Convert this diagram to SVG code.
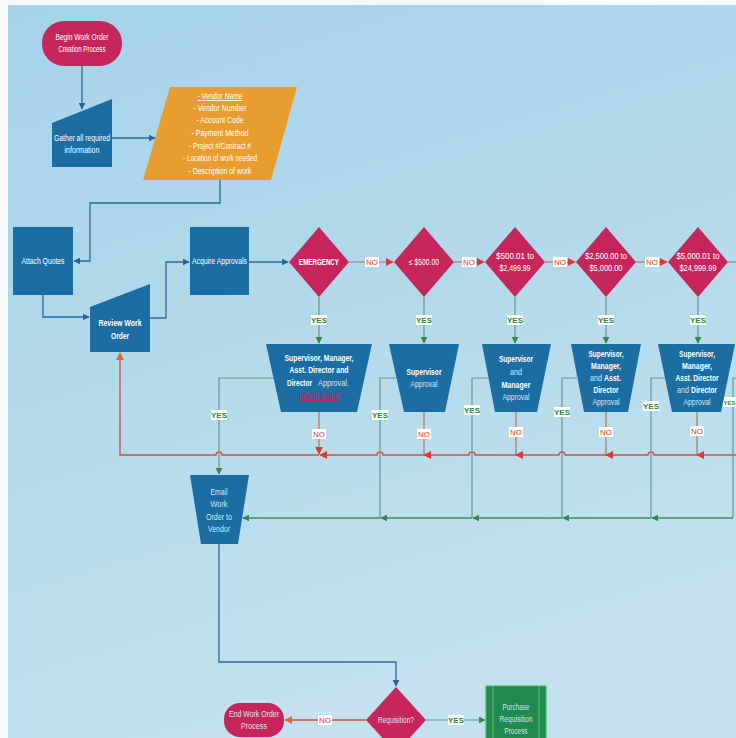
<svg xmlns="http://www.w3.org/2000/svg" width="736" height="738" viewBox="0 0 736 738">
<defs>
<linearGradient id="bg" x1="0" y1="0" x2="0.3" y2="1">
<stop offset="0" stop-color="#a6d3e9"/>
<stop offset="0.5" stop-color="#b2d9eb"/>
<stop offset="1" stop-color="#c3e1ee"/>
</linearGradient>
<marker id="aB" viewBox="0 0 10 10" refX="9" refY="5" markerWidth="7" markerHeight="7" markerUnits="userSpaceOnUse" orient="auto"><path d="M0,0 L10,5 L0,10 z" fill="#24679a"/></marker>
<marker id="aR" viewBox="0 0 10 10" refX="9" refY="5" markerWidth="8" markerHeight="8" markerUnits="userSpaceOnUse" orient="auto"><path d="M0,0 L10,5 L0,10 z" fill="#d83a35"/></marker>
<marker id="aO" viewBox="0 0 10 10" refX="9" refY="5" markerWidth="8" markerHeight="8" markerUnits="userSpaceOnUse" orient="auto"><path d="M0,0 L10,5 L0,10 z" fill="#e0672e"/></marker>
<marker id="aG" viewBox="0 0 10 10" refX="9" refY="5" markerWidth="7" markerHeight="7" markerUnits="userSpaceOnUse" orient="auto"><path d="M0,0 L10,5 L0,10 z" fill="#2f8a4c"/></marker>
</defs>
<style>
text{font-family:"Liberation Sans",Arial,sans-serif;font-size:8.5px;text-anchor:middle;fill:#ffffff}
.b{font-weight:bold}
.n{fill:#d3e5f1}
.e{text-anchor:end}
.s{text-anchor:start}
.lnk{fill:#d6232a;text-decoration:underline}
.blue{fill:#1c6ea2}
.crim{fill:#c7265c}
.orng{fill:#e89d2f}
.grn{fill:#1f8a4b;stroke:#52b66f;stroke-width:1.2}
.cb{fill:none;stroke:#2a6b9c;stroke-width:1.3}
.cr{fill:none;stroke:#d0503f;stroke-width:1.3}
.cn{fill:none;stroke:#b8706c;stroke-width:1.2}
.cy{fill:none;stroke:#5f9c8e;stroke-width:1.2}
.cg{fill:none;stroke:#3b8f5b;stroke-width:1.4}
.lbl{fill:#ffffff}
.no{fill:#d8401f;font-size:8px}
.yes{fill:#2e8a3a;font-size:8px;font-weight:bold}
</style>
<rect x="0" y="0" width="736" height="738" fill="#f7f8fa"/>
<rect x="8" y="5" width="728" height="733" fill="url(#bg)"/>

<g id="connectors">
<path class="cb" d="M82,66 V109" marker-end="url(#aB)"/>
<path class="cb" d="M112,138 H155" marker-end="url(#aB)"/>
<path class="cb" d="M220,180 V203 H90 V261 H74" marker-end="url(#aB)"/>
<path class="cb" d="M43,295 V317 H89" marker-end="url(#aB)"/>
<path class="cb" d="M150,318 H166 V262 H189" marker-end="url(#aB)"/>
<path class="cb" d="M249,262 H288" marker-end="url(#aB)"/>
<path class="cn" d="M349,262 H393" marker-end="url(#aR)"/>
<path class="cn" d="M454,262 H484" marker-end="url(#aR)"/>
<path class="cn" d="M545,262 H575" marker-end="url(#aR)"/>
<path class="cn" d="M636,262 H667" marker-end="url(#aR)"/>
<path class="cn" d="M728,262 H736"/>
<path class="cy" d="M319,297 V343" marker-end="url(#aG)"/>
<path class="cy" d="M424,297 V343" marker-end="url(#aG)"/>
<path class="cy" d="M515,297 V343" marker-end="url(#aG)"/>
<path class="cy" d="M606,297 V343" marker-end="url(#aG)"/>
<path class="cy" d="M698,297 V343" marker-end="url(#aG)"/>
<path class="cn" d="M319,412 V454" marker-end="url(#aR)"/>
<path class="cn" d="M424,412 V455"/>
<path class="cn" d="M516,412 V455"/>
<path class="cn" d="M606,412 V455"/>
<path class="cn" d="M697,412 V455"/>
<path class="cr" d="M736,455 H697" marker-end="url(#aR)"/>
<path class="cr" d="M697,455 H654 A3,3 0 0 0 648,455 H606" marker-end="url(#aR)"/>
<path class="cr" d="M606,455 H565 A3,3 0 0 0 559,455 H516" marker-end="url(#aR)"/>
<path class="cr" d="M516,455 H475 A3,3 0 0 0 469,455 H424" marker-end="url(#aR)"/>
<path class="cr" d="M424,455 H383 A3,3 0 0 0 377,455 H320" marker-end="url(#aR)"/>
<path class="cr" d="M319,455 H222 A3,3 0 0 0 216,455 H120 V353" marker-end="url(#aO)"/>
<path class="cy" d="M274,378 H219 V474" marker-end="url(#aG)"/>
<path class="cy" d="M396,378 H380 V518"/>
<path class="cy" d="M488,378 H472 V518"/>
<path class="cy" d="M577,378 H562 V518"/>
<path class="cy" d="M666,378 H651 V518"/>
<path class="cy" d="M736,378 H733 V518"/>
<path class="cg" d="M733,518 H652" marker-end="url(#aG)"/>
<path class="cg" d="M651,518 H563" marker-end="url(#aG)"/>
<path class="cg" d="M562,518 H473" marker-end="url(#aG)"/>
<path class="cg" d="M472,518 H381" marker-end="url(#aG)"/>
<path class="cg" d="M380,518 H243" marker-end="url(#aG)"/>
<path class="cb" d="M219,544 V662 H396 V686" marker-end="url(#aB)"/>
<path class="cr" d="M366,720 H285" marker-end="url(#aO)"/>
<path class="cy" d="M426,720 H485" marker-end="url(#aG)"/>
<g id="labels">
<rect class="lbl" x="365" y="257" width="14" height="10"/><text class="no" x="372" y="265">NO</text>
<rect class="lbl" x="462" y="257" width="14" height="10"/><text class="no" x="469" y="265">NO</text>
<rect class="lbl" x="553" y="257" width="14" height="10"/><text class="no" x="560" y="265">NO</text>
<rect class="lbl" x="645" y="257" width="14" height="10"/><text class="no" x="652" y="265">NO</text>
<rect class="lbl" x="311" y="315" width="16" height="10"/><text class="yes" x="319" y="323">YES</text>
<rect class="lbl" x="416" y="315" width="16" height="10"/><text class="yes" x="424" y="323">YES</text>
<rect class="lbl" x="507" y="315" width="16" height="10"/><text class="yes" x="515" y="323">YES</text>
<rect class="lbl" x="598" y="315" width="16" height="10"/><text class="yes" x="606" y="323">YES</text>
<rect class="lbl" x="690" y="315" width="16" height="10"/><text class="yes" x="698" y="323">YES</text>
<rect class="lbl" x="312" y="429" width="14" height="10"/><text class="no" x="319" y="437">NO</text>
<rect class="lbl" x="417" y="429" width="14" height="10"/><text class="no" x="424" y="437">NO</text>
<rect class="lbl" x="509" y="427" width="14" height="10"/><text class="no" x="516" y="435">NO</text>
<rect class="lbl" x="599" y="427" width="14" height="10"/><text class="no" x="606" y="435">NO</text>
<rect class="lbl" x="690" y="426" width="14" height="10"/><text class="no" x="697" y="434">NO</text>
<rect class="lbl" x="211" y="410" width="16" height="10"/><text class="yes" x="219" y="418">YES</text>
<rect class="lbl" x="372" y="410" width="16" height="10"/><text class="yes" x="380" y="418">YES</text>
<rect class="lbl" x="464" y="405" width="16" height="10"/><text class="yes" x="472" y="413">YES</text>
<rect class="lbl" x="554" y="407" width="16" height="10"/><text class="yes" x="562" y="415">YES</text>
<rect class="lbl" x="643" y="401" width="16" height="10"/><text class="yes" x="651" y="409">YES</text>
<rect class="lbl" x="723" y="397" width="13" height="10"/><text class="yes" x="729.5" y="404.5" style="font-size:6px">YES</text>
<rect class="lbl" x="318" y="715" width="14" height="10"/><text class="no" x="325" y="723">NO</text>
<rect class="lbl" x="448" y="715" width="16" height="10"/><text class="yes" x="456" y="723">YES</text>
</g>
</g>

<g id="begin">
<rect class="crim" x="42" y="21" width="80" height="45" rx="22"/>
<text x="82" y="40" textLength="53" lengthAdjust="spacingAndGlyphs">Begin Work Order</text>
<text x="82" y="52" textLength="47" lengthAdjust="spacingAndGlyphs">Creation Process</text>
</g>
<g id="gather">
<path class="blue" d="M52,123 L112,99 V167 H52 z"/>
<text x="82" y="141" textLength="56" lengthAdjust="spacingAndGlyphs">Gather all required</text>
<text x="82" y="153" textLength="35" lengthAdjust="spacingAndGlyphs">information</text>
</g>
<g id="info">
<path class="orng" d="M170,87 H297 L271,180 H143 z"/>
<text x="220" y="99" text-decoration="underline" textLength="45" lengthAdjust="spacingAndGlyphs">- Vendor Name</text>
<text x="220" y="111" textLength="53" lengthAdjust="spacingAndGlyphs">- Vendor Number</text>
<text x="220" y="123" textLength="47" lengthAdjust="spacingAndGlyphs">- Account Code</text>
<text x="220" y="136" textLength="57" lengthAdjust="spacingAndGlyphs">- Payment Method</text>
<text x="220" y="149" textLength="62" lengthAdjust="spacingAndGlyphs">- Project #/Contract #</text>
<text x="220" y="161" textLength="74" lengthAdjust="spacingAndGlyphs">- Location of work needed</text>
<text x="220" y="174" textLength="63" lengthAdjust="spacingAndGlyphs">- Description of work</text>
</g>
<g id="attach">
<rect class="blue" x="13" y="227" width="60" height="68"/>
<text x="43" y="264" textLength="43" lengthAdjust="spacingAndGlyphs">Attach Quotes</text>
</g>
<g id="review">
<path class="blue" d="M90,307 L150,284 V352 H90 z"/>
<text class="b" x="120" y="326" textLength="43" lengthAdjust="spacingAndGlyphs">Review Work</text>
<text class="b" x="120" y="339" textLength="18" lengthAdjust="spacingAndGlyphs">Order</text>
</g>
<g id="acquire">
<rect class="blue" x="190" y="227" width="59" height="68"/>
<text x="219.5" y="264" textLength="55" lengthAdjust="spacingAndGlyphs">Acquire Approvals</text>
</g>
<g id="d-emergency">
<path class="crim" d="M319,227 L349,262 L319,297 L289,262 z"/>
<text class="b" x="319" y="265" textLength="40" lengthAdjust="spacingAndGlyphs">EMERGENCY</text>
</g>
<g id="d-500">
<path class="crim" d="M424,227 L454,262 L424,297 L394,262 z"/>
<text x="424" y="265" textLength="30" lengthAdjust="spacingAndGlyphs">≤ $500.00</text>
</g>
<g id="d-2499">
<path class="crim" d="M515,227 L545,262 L515,297 L485,262 z"/>
<text x="515" y="259" textLength="38" lengthAdjust="spacingAndGlyphs">$500.01 to</text>
<text x="515" y="271" textLength="31" lengthAdjust="spacingAndGlyphs">$2,499.99</text>
</g>
<g id="d-5000">
<path class="crim" d="M606,227 L636,262 L606,297 L576,262 z"/>
<text x="606" y="259" textLength="42" lengthAdjust="spacingAndGlyphs">$2,500.00 to</text>
<text x="606" y="271" textLength="33" lengthAdjust="spacingAndGlyphs">$5,000.00</text>
</g>
<g id="d-24999">
<path class="crim" d="M698,227 L728,262 L698,297 L668,262 z"/>
<text x="698" y="259" textLength="43" lengthAdjust="spacingAndGlyphs">$5,000.01 to</text>
<text x="698" y="271" textLength="37" lengthAdjust="spacingAndGlyphs">$24,999.99</text>
</g>
<g id="t-emergency">
<path class="blue" d="M266,344 H372 L357,412 H281 z"/>
<text class="b" x="319" y="361" textLength="69" lengthAdjust="spacingAndGlyphs">Supervisor, Manager,</text>
<text class="b" x="319" y="373" textLength="59" lengthAdjust="spacingAndGlyphs">Asst. Director and</text>
<text class="b e" x="312" y="386" textLength="25" lengthAdjust="spacingAndGlyphs">Director</text>
<text class="n s" x="318" y="386" textLength="31" lengthAdjust="spacingAndGlyphs">Approval.</text>
<text class="lnk" x="319" y="399" textLength="40" lengthAdjust="spacingAndGlyphs">Inform Board</text>
</g>
<g id="t-sup">
<path class="blue" d="M389,344 H459 L445,412 H404 z"/>
<text class="b" x="424" y="375" textLength="35" lengthAdjust="spacingAndGlyphs">Supervisor</text>
<text class="n" x="424" y="387" textLength="27" lengthAdjust="spacingAndGlyphs">Approval</text>
</g>
<g id="t-supman">
<path class="blue" d="M482,344 H551 L537,412 H495 z"/>
<text class="b" x="516" y="362" textLength="34" lengthAdjust="spacingAndGlyphs">Supervisor</text>
<text class="n" x="516" y="375" textLength="12" lengthAdjust="spacingAndGlyphs">and</text>
<text class="b" x="516" y="388" textLength="29" lengthAdjust="spacingAndGlyphs">Manager</text>
<text class="n" x="516" y="400" textLength="27" lengthAdjust="spacingAndGlyphs">Approval</text>
</g>
<g id="t-supmanasst">
<path class="blue" d="M571,344 H641 L628,412 H584 z"/>
<text class="b" x="606" y="357" textLength="35" lengthAdjust="spacingAndGlyphs">Supervisor,</text>
<text class="b" x="606" y="369" textLength="30" lengthAdjust="spacingAndGlyphs">Manager,</text>
<text class="n e" x="602" y="381" textLength="12" lengthAdjust="spacingAndGlyphs">and</text>
<text class="b s" x="604" y="381" textLength="17" lengthAdjust="spacingAndGlyphs">Asst.</text>
<text class="b" x="606" y="393" textLength="25" lengthAdjust="spacingAndGlyphs">Director</text>
<text class="n" x="606" y="405" textLength="27" lengthAdjust="spacingAndGlyphs">Approval</text>
</g>
<g id="t-all">
<path class="blue" d="M658,344 H735 L721,412 H672 z"/>
<text class="b" x="697" y="357" textLength="36" lengthAdjust="spacingAndGlyphs">Supervisor,</text>
<text class="b" x="697" y="369" textLength="30" lengthAdjust="spacingAndGlyphs">Manager,</text>
<text class="b" x="697" y="381" textLength="43" lengthAdjust="spacingAndGlyphs">Asst. Director</text>
<text class="n e" x="689" y="393" textLength="12" lengthAdjust="spacingAndGlyphs">and</text>
<text class="b s" x="691" y="393" textLength="26" lengthAdjust="spacingAndGlyphs">Director</text>
<text class="n" x="697" y="405" textLength="27" lengthAdjust="spacingAndGlyphs">Approval</text>
</g>
<g id="email">
<path class="blue" d="M190,475 H249 L238,544 H201 z"/>
<text class="n" x="219" y="495" textLength="17" lengthAdjust="spacingAndGlyphs">Email</text>
<text class="n" x="219" y="507" textLength="17" lengthAdjust="spacingAndGlyphs">Work</text>
<text class="n" x="219" y="520" textLength="26" lengthAdjust="spacingAndGlyphs">Order to</text>
<text class="n" x="219" y="532" textLength="22" lengthAdjust="spacingAndGlyphs">Vendor</text>
</g>
<g id="requisition">
<path class="crim" d="M396,687 L426,720 L396,753 L366,720 z"/>
<text class="n" x="396" y="723" textLength="36" lengthAdjust="spacingAndGlyphs">Requisition?</text>
</g>
<g id="end">
<rect class="crim" x="224" y="703" width="60" height="34" rx="16"/>
<text class="n" x="254" y="717" textLength="50" lengthAdjust="spacingAndGlyphs">End Work Order</text>
<text class="n" x="254" y="729" textLength="26" lengthAdjust="spacingAndGlyphs">Process</text>
</g>
<g id="purchase">
<rect class="grn" x="486" y="686" width="60" height="60"/>
<path d="M493,686 V746 M539,686 V746" stroke="#52b66f" stroke-width="1.2"/>
<text class="n" x="516" y="710" textLength="27" lengthAdjust="spacingAndGlyphs">Purchase</text>
<text class="n" x="516" y="722" textLength="33" lengthAdjust="spacingAndGlyphs">Requisition</text>
<text class="n" x="516" y="734" textLength="23" lengthAdjust="spacingAndGlyphs">Process</text>
</g>
</svg>
